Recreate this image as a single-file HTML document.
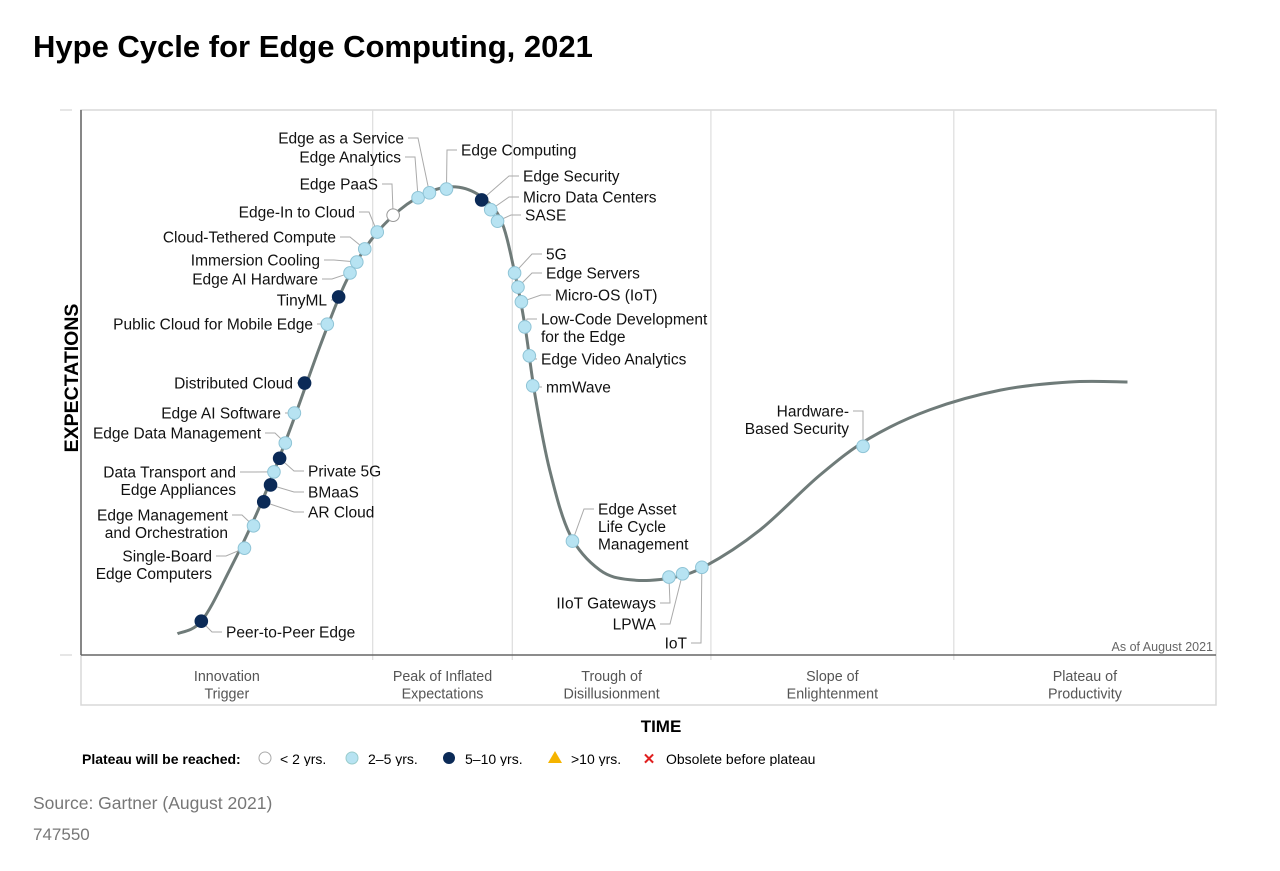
<!DOCTYPE html>
<html><head><meta charset="utf-8"><style>
body{margin:0;background:#fff;width:1280px;height:871px;overflow:hidden;font-family:"Liberation Sans",sans-serif}
svg{display:block}
</style></head><body>
<svg width="1280" height="871" viewBox="0 0 1280 871">
<text x="33" y="57" font-size="31" font-weight="bold" fill="#000">Hype Cycle for Edge Computing, 2021</text>
<rect x="81" y="110" width="1135" height="595" fill="none" stroke="#d8d8d8" stroke-width="1.5"/>
<g id="phases"></g>
<line x1="81" y1="110" x2="81" y2="655" stroke="#666" stroke-width="1.5"/>
<line x1="81" y1="655" x2="1216" y2="655" stroke="#666" stroke-width="1.5"/>
<line x1="60" y1="110" x2="72" y2="110" stroke="#ccc"/>
<line x1="60" y1="655" x2="72" y2="655" stroke="#ccc"/>
<text transform="translate(78,378) rotate(-90)" text-anchor="middle" font-size="19.5" font-weight="bold">EXPECTATIONS</text>
<text x="661" y="732" text-anchor="middle" font-size="17" font-weight="bold">TIME</text>
<text x="1213" y="651" text-anchor="end" font-size="12.5" fill="#666">As of August 2021</text>
<path id="curve" fill="none" stroke="#6f7b79" stroke-width="3"/>
<g id="leaders"></g><g id="dots"></g><g id="labels"></g>
<g id="legend" font-size="14">
<text x="82" y="764" font-weight="bold">Plateau will be reached:</text>
<circle cx="265" cy="758" r="6" fill="#fff" stroke="#aaa"/><text x="280" y="764">&lt; 2 yrs.</text>
<circle cx="352" cy="758" r="6" fill="#b7e3f2" stroke="#9cc"/><text x="368" y="764">2–5 yrs.</text>
<circle cx="449" cy="758" r="6" fill="#0b2a57"/><text x="465" y="764">5–10 yrs.</text>
<polygon points="555,751 562,763 548,763" fill="#f5b400"/><text x="571" y="764">&gt;10 yrs.</text>
<text x="649" y="764" text-anchor="middle" fill="#e02020" font-weight="bold" font-size="15">✕</text><text x="666" y="764">Obsolete before plateau</text>
</g>
<rect x="0" y="766" width="1280" height="20" fill="#fff"/>
<text x="33" y="809" font-size="17.5" fill="#777">Source: Gartner (August 2021)</text>
<text x="33" y="840" font-size="17" fill="#777">747550</text>
</svg>
<script>
const NS="http://www.w3.org/2000/svg";
const curveT=[8.5,10.6,13.1,15.8,18.4,21.1,23.3,25.5,28.1,30.7,33.0,35.2,37.0,38.2,39.1,40.0,41.3,43.1,45.7,48.4,51.9,55.0,59.8,65.1,69.5,74.8,81.0,87.1,92.2];
const curveE=[3.9,6.2,15.6,27.5,41.3,56.9,68.3,76.0,81.7,85.0,85.9,84.2,79.8,70.3,60.6,47.7,33.9,22.0,15.6,13.8,14.1,16.3,22.9,33.0,39.8,45.0,48.6,50.1,50.1];
const phaseNames=[["Innovation","Trigger"],["Peak of Inflated","Expectations"],["Trough of","Disillusionment"],["Slope of","Enlightenment"],["Plateau of","Productivity"]];
const phaseBounds=[0,25.7,38.0,55.5,76.9,100];
const itemNames=["Peer-to-Peer Edge","Single-Board Edge Computers","Edge Management and Orchestration","AR Cloud","BMaaS","Data Transport and Edge Appliances","Private 5G","Edge Data Management","Edge AI Software","Distributed Cloud","Public Cloud for Mobile Edge","TinyML","Edge AI Hardware","Immersion Cooling","Cloud-Tethered Compute","Edge-In to Cloud","Edge PaaS","Edge Analytics","Edge as a Service","Edge Computing","Edge Security","Micro Data Centers","SASE","5G","Edge Servers","Micro-OS (IoT)","Low-Code Development for the Edge","Edge Video Analytics","mmWave","Edge Asset Life Cycle Management","IIoT Gateways","LPWA","IoT","Hardware-Based Security"];
const itemT=[10.6,14.4,15.2,16.1,16.7,17.0,17.5,18.0,18.8,19.7,21.7,22.7,23.7,24.3,25.0,26.1,27.5,29.7,30.7,32.2,35.3,36.1,36.7,38.2,38.5,38.8,39.1,39.5,39.8,43.3,51.8,53.0,54.7,68.9];
const itemE=[6.2,19.6,23.7,28.1,31.2,33.6,36.1,38.9,44.4,49.9,60.7,65.7,70.1,72.1,74.5,77.6,80.7,83.9,84.8,85.5,83.5,81.7,79.6,70.1,67.5,64.8,60.2,54.9,49.4,20.9,14.3,14.9,16.1,38.3];
const itemCat=[2,1,1,2,2,1,2,1,1,2,1,2,1,1,1,1,0,1,1,1,2,1,1,1,1,1,1,1,1,1,1,1,1,1];
// label layout (pixels): [x, y, anchor, lines...]
const labelLayout=[
[226,632,"start",["Peer-to-Peer Edge"]],
[212,556,"end",["Single-Board","Edge Computers"]],
[228,515,"end",["Edge Management","and Orchestration"]],
[308,512,"start",["AR Cloud"]],
[308,492,"start",["BMaaS"]],
[236,472,"end",["Data Transport and","Edge Appliances"]],
[308,471,"start",["Private 5G"]],
[261,433,"end",["Edge Data Management"]],
[281,413,"end",["Edge AI Software"]],
[293,383,"end",["Distributed Cloud"]],
[313,324,"end",["Public Cloud for Mobile Edge"]],
[327,300,"end",["TinyML"]],
[318,279,"end",["Edge AI Hardware"]],
[320,260,"end",["Immersion Cooling"]],
[336,237,"end",["Cloud-Tethered Compute"]],
[355,212,"end",["Edge-In to Cloud"]],
[378,184,"end",["Edge PaaS"]],
[401,157,"end",["Edge Analytics"]],
[404,138,"end",["Edge as a Service"]],
[461,150,"start",["Edge Computing"]],
[523,176,"start",["Edge Security"]],
[523,197,"start",["Micro Data Centers"]],
[525,215,"start",["SASE"]],
[546,254,"start",["5G"]],
[546,273,"start",["Edge Servers"]],
[555,295,"start",["Micro-OS (IoT)"]],
[541,319,"start",["Low-Code Development","for the Edge"]],
[541,359,"start",["Edge Video Analytics"]],
[546,387,"start",["mmWave"]],
[598,509,"start",["Edge Asset","Life Cycle","Management"]],
[656,603,"end",["IIoT Gateways"]],
[656,624,"end",["LPWA"]],
[687,643,"end",["IoT"]],
[849,411,"end",["Hardware-","Based Security"]]];
const X0=81,X1=1216,Y0=655,YT=110;
const xS=t=>X0+t*(X1-X0)/100;
const yS=e=>Y0-e*(Y0-YT)/100;
const pts=curveT.map((t,i)=>[xS(t),yS(curveE[i])]);
let d="M"+pts[0][0]+","+pts[0][1];
for(let i=0;i<pts.length-1;i++){
 const p0=pts[Math.max(0,i-1)],p1=pts[i],p2=pts[i+1],p3=pts[Math.min(pts.length-1,i+2)];
 d+=` C${p1[0]+(p2[0]-p0[0])/6},${p1[1]+(p2[1]-p0[1])/6} ${p2[0]-(p3[0]-p1[0])/6},${p2[1]-(p3[1]-p1[1])/6} ${p2[0]},${p2[1]}`;
}
document.getElementById("curve").setAttribute("d",d);
const pg=document.getElementById("phases");
phaseBounds.forEach((b,i)=>{
 if(i>0&&i<phaseBounds.length-1){
  const l=document.createElementNS(NS,"line");
  l.setAttribute("x1",xS(b));l.setAttribute("x2",xS(b));l.setAttribute("y1",110);l.setAttribute("y2",660);
  l.setAttribute("stroke","#ddd");l.setAttribute("stroke-width","1.2");
  
  
  pg.appendChild(l);
 }
 if(i<phaseNames.length){
  const cx=(xS(b)+xS(phaseBounds[i+1]))/2;
  phaseNames[i].forEach((s,j)=>{
   const t=document.createElementNS(NS,"text");
   t.setAttribute("x",cx);t.setAttribute("y",681+j*17.5);t.setAttribute("text-anchor","middle");
   t.setAttribute("font-size","14.3");t.setAttribute("fill","#555");t.textContent=s;
   
   
   pg.appendChild(t);
  });
 }
});
const fills=["#ffffff","#b7e3f2","#0b2a57"],strokes=["#999","#8fc4d6","#0b2a57"];
const dg=document.getElementById("dots"),lg=document.getElementById("labels"),ldg=document.getElementById("leaders");
itemNames.forEach((n,i)=>{
 const cx=xS(itemT[i]),cy=yS(itemE[i]);
 const c=document.createElementNS(NS,"circle");
 c.setAttribute("cx",cx);c.setAttribute("cy",cy);c.setAttribute("r",6.3);
 c.setAttribute("fill",fills[itemCat[i]]);c.setAttribute("stroke",strokes[itemCat[i]]);c.setAttribute("stroke-width","1");
 
 
 dg.appendChild(c);
 const L=labelLayout[i];
 const txt=document.createElementNS(NS,"text");
 txt.setAttribute("x",L[0]);txt.setAttribute("text-anchor",L[2]);
 txt.setAttribute("font-size","15.5");txt.setAttribute("fill","#111");
 
 
 L[3].forEach((s,j)=>{
  const ts=document.createElementNS(NS,"tspan");
  ts.setAttribute("x",L[0]);ts.setAttribute("y",L[1]+5.5+j*17.5);ts.textContent=s;
  txt.appendChild(ts);
 });
 lg.appendChild(txt);
 const sx=L[2]==="end"?L[0]+4:L[0]-4,ex=L[2]==="end"?sx+10:sx-10;
 const pl=document.createElementNS(NS,"polyline");
 pl.setAttribute("points",`${sx},${L[1]} ${ex},${L[1]} ${cx},${cy}`);
 pl.setAttribute("fill","none");pl.setAttribute("stroke","#aaa");pl.setAttribute("stroke-width","1");
 
 
 ldg.appendChild(pl);
});
</script>
</body></html>
